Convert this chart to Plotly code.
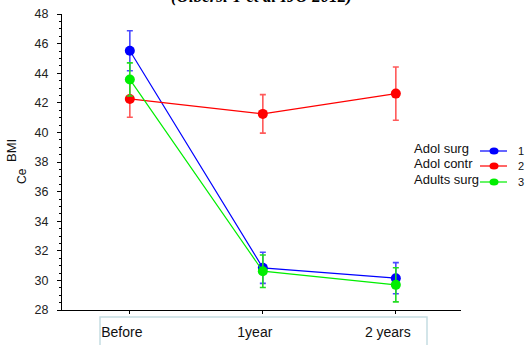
import plotly.graph_objects as go

# ---- data ----
categories = ["Before", "1year", "2 years"]
series_names = ["Adol surg", "Adol contr", "Adults surg"]
series_ids = ["1", "2", "3"]
adol_surg = [45.52, 30.85, 30.15]
adol_surg_err = [1.35, 1.05, 1.05]
adol_contr = [42.26, 41.25, 42.62]
adol_contr_err = [1.24, 1.3, 1.8]
adults_surg = [43.58, 30.62, 29.7]
adults_surg_err = [1.12, 1.1, 1.15]
y_ticks = [28, 30, 32, 34, 36, 38, 40, 42, 44, 46, 48]

colors = ["#0000ff", "#ff0000", "#00ee00"]
err_colors = ["#4a4aff", "#ff5a5a", "#22dd22"]

W, H = 528, 345
L, R, T, B = 62, 67, 14, 35
PW, PH = W - L - R, H - T - B


def px(x):
    return (x - L) / PW


def py(y):
    return (H - B - y) / PH


xs = list(range(len(categories)))
fig = go.Figure()
for vals, errs, c, ec, name in zip(
    [adol_surg, adol_contr, adults_surg],
    [adol_surg_err, adol_contr_err, adults_surg_err],
    colors, err_colors, series_names,
):
    fig.add_trace(go.Scatter(
        x=xs, y=vals, name=name, mode="lines+markers",
        line=dict(color=c, width=1.2),
        marker=dict(color=c, size=10, line=dict(width=0)),
        error_y=dict(type="data", array=errs, visible=True, color=ec,
                     thickness=1.6, width=3),
        showlegend=False,
    ))

fig.update_xaxes(
    range=[-0.51, 2.49], tickvals=xs, ticktext=categories,
    showline=True, linecolor="black", linewidth=1.2,
    ticks="outside", ticklen=3, tickcolor="black",
    showgrid=False, zeroline=False, automargin=False,
    tickfont=dict(family="Liberation Sans, Arial", size=14, color="#111"),
    ticklabelshift=-8, ticklabelstandoff=6,
)
fig.update_yaxes(
    range=[28, 48], tickvals=y_ticks,
    showline=True, linecolor="black", linewidth=1.2,
    ticks="outside", ticklen=4, tickcolor="black",
    minor=dict(ticks="outside", ticklen=2, dtick=0.5, tickcolor="black"),
    showgrid=False, zeroline=False, automargin=False,
    tickfont=dict(family="Liberation Sans, Arial", size=12.5, color="#222"),
    ticklabelstandoff=6,
)

shapes = []
annotations = []
# box around category labels
shapes.append(dict(type="rect", xref="paper", yref="paper",
                   x0=px(100), x1=px(427), y0=py(317), y1=py(360),
                   line=dict(color="#c5dde2", width=1.5), fillcolor="rgba(0,0,0,0)"))

# title (partially cut at top, as in the reference)
annotations.append(dict(text="<b><i>(Olbersi T et al IJO 2012)</i></b>",
                        xref="paper", yref="paper", x=px(261), y=py(8),
                        xanchor="center", yanchor="bottom", showarrow=False,
                        font=dict(family="Liberation Serif, Times New Roman", size=17, color="black")))

# y-axis title
annotations.append(dict(text="BMI", xref="paper", yref="paper", x=px(11), y=py(151),
                        xanchor="center", yanchor="middle", textangle=-90, showarrow=False,
                        font=dict(family="Liberation Sans, Arial", size=13, color="#111")))
annotations.append(dict(text="Ce", xref="paper", yref="paper", x=px(22), y=py(176),
                        xanchor="center", yanchor="middle", textangle=-90, showarrow=False,
                        font=dict(family="Liberation Sans, Arial", size=12, color="#111")))

# custom legend
row_y = [150, 165, 181]
for i, (name, sid, c) in enumerate(zip(series_names, series_ids, colors)):
    yy = row_y[i]
    annotations.append(dict(text=name, xref="paper", yref="paper", x=px(412), y=py(yy - 2),
                            xanchor="left", yanchor="middle", showarrow=False,
                            font=dict(family="Liberation Sans, Arial", size=13, color="#111")))
    annotations.append(dict(text=sid, xref="paper", yref="paper", x=px(526), y=py(yy + 1),
                            xanchor="right", yanchor="middle", showarrow=False,
                            font=dict(family="Liberation Sans, Arial", size=11, color="#111")))
    shapes.append(dict(type="line", xref="paper", yref="paper",
                       x0=px(480), x1=px(507), y0=py(yy + 1), y1=py(yy + 1),
                       line=dict(color=c, width=1.2)))
    shapes.append(dict(type="circle", xref="paper", yref="paper",
                       x0=px(489.5), x1=px(498.5), y0=py(yy + 1 - 3.5), y1=py(yy + 1 + 3.5),
                       fillcolor=c, line=dict(color=c, width=0)))

fig.update_layout(
    width=W, height=H,
    margin=dict(l=L, r=R, t=T, b=B),
    plot_bgcolor="white", paper_bgcolor="white",
    shapes=shapes, annotations=annotations,
    showlegend=False,
)

fig.write_html("out.html", config={"displayModeBar": False},
               post_script="document.body.style.margin='0';document.body.style.padding='0';")
